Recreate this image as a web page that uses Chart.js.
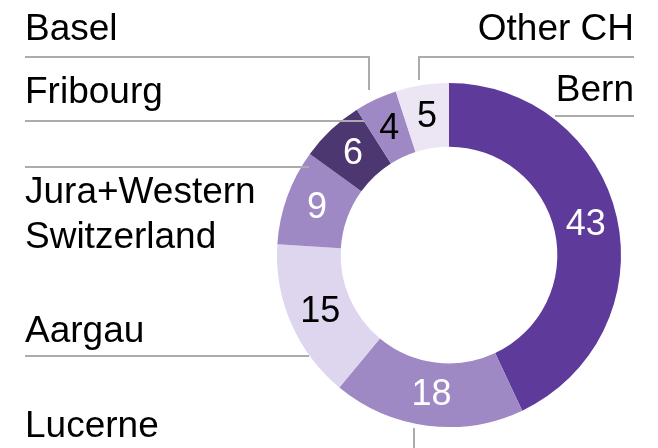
<!DOCTYPE html>
<html><head><meta charset="utf-8">
<script src="https://cdn.jsdelivr.net/npm/chart.js@4"></script>
<style>html,body{margin:0;padding:0;background:#fff}#wrap{width:658px;height:448px}</style>
</head><body><div id="wrap"><canvas id="c" width="658" height="448"></canvas></div>
<script>
const categories = ["Bern","Lucerne","Aargau","Jura+Western Switzerland","Fribourg","Basel","Other CH"];
const values = [43, 18, 15, 9, 6, 4, 5];
const colors = ["#5E3B9B","#9E89C4","#DED5EF","#9E89C4","#4C3771","#9E89C4","#EBE5F4"];
const valueTextColors = ["#fff","#fff","#000","#fff","#fff","#000","#000"];

// Outside label layout (text, x, baseline y, align)
const labelLayout = [
  {t:"Basel", x:25, y:40, a:"left"},
  {t:"Other CH", x:634, y:40, a:"right"},
  {t:"Fribourg", x:25, y:103, a:"left"},
  {t:"Bern", x:634, y:101, a:"right"},
  {t:"Jura+Western", x:25, y:203, a:"left"},
  {t:"Switzerland", x:25, y:248, a:"left"},
  {t:"Aargau", x:25, y:342, a:"left"},
  {t:"Lucerne", x:25, y:437, a:"left"}
];
// Leader polylines
const leaders = [
  [[25,57],[369,57],[369,90]],
  [[634,57],[419,57],[419,80]],
  [[25,121],[364,121]],
  [[555,116],[634,116]],
  [[25,167],[309,167]],
  [[25,356],[309,356]],
  [[414,428],[414,448]]
];

const overlay = {
  id:'overlay',
  afterDatasetsDraw(chart){
    const ctx = chart.ctx;
    const meta = chart.getDatasetMeta(0);
    ctx.save();
    ctx.strokeStyle = "#ABABAB";
    ctx.lineWidth = 2;
    leaders.forEach(pts=>{
      ctx.beginPath();
      pts.forEach((p,i)=> i?ctx.lineTo(p[0],p[1]):ctx.moveTo(p[0],p[1]));
      ctx.stroke();
    });
    ctx.font = '37px "Liberation Sans", Arial, sans-serif';
    ctx.textBaseline = 'alphabetic';
    ctx.fillStyle = '#000';
    labelLayout.forEach(l=>{ ctx.textAlign = l.a; ctx.fillText(l.t, l.x, l.y); });
    ctx.font = '36px "Liberation Sans", Arial, sans-serif';
    ctx.textAlign = 'center';
    ctx.textBaseline = 'middle';
    meta.data.forEach((arc,i)=>{
      const p = arc.tooltipPosition();
      ctx.fillStyle = valueTextColors[i];
      ctx.fillText(String(values[i]), p.x, p.y+1);
    });
    ctx.restore();
  }
};

new Chart(document.getElementById('c'), {
  type:'doughnut',
  data:{labels:categories, datasets:[{data:values, backgroundColor:colors, borderWidth:0, hoverOffset:0}]},
  options:{
    responsive:false, animation:false, cutout:'63%',
    layout:{padding:{left:277,right:37,top:83,bottom:21}},
    plugins:{legend:{display:false}, tooltip:{enabled:false}}
  },
  plugins:[overlay]
});
</script></body></html>
